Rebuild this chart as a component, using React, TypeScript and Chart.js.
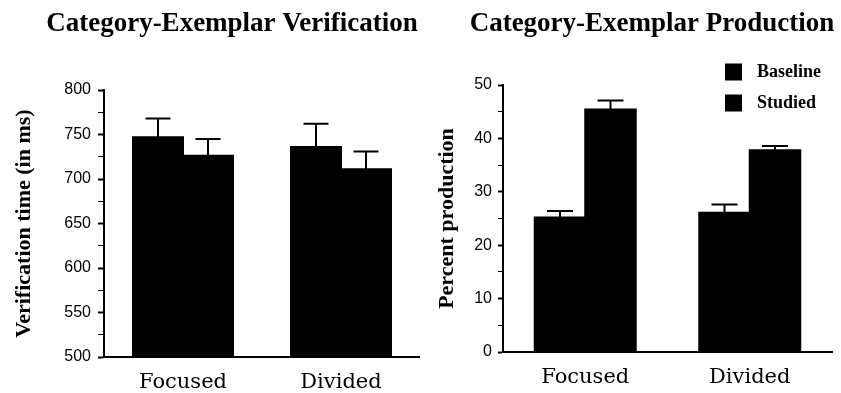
import React, { useEffect, useRef } from 'react';
import { Chart, registerables } from 'chart.js';

Chart.register(...registerables);

// ---- Data ----
const categories = ['Focused', 'Divided'];
const seriesLabels = ['Baseline', 'Studied'];

const verificationBaseline = [747, 736];
const verificationBaselineErr = [21, 26];
const verificationStudied = [726, 711];
const verificationStudiedErr = [19, 20];

const productionBaseline = [25.2, 26.1];
const productionBaselineErr = [1.2, 1.5];
const productionStudied = [45.4, 37.8];
const productionStudiedErr = [1.7, 0.8];

const verificationTitle = 'Category-Exemplar Verification';
const productionTitle = 'Category-Exemplar Production';
const verificationAxisTitle = 'Verification time (in ms)';
const productionAxisTitle = 'Percent production';

// ---- Plugins ----
const errorBarPlugin = {
  id: 'errorBars',
  afterDatasetsDraw(chart: any, _args: any, opts: any) {
    const ctx = chart.ctx;
    const yScale = chart.scales.y;
    chart.data.datasets.forEach((ds: any, di: number) => {
      if (!ds.errors) return;
      const meta = chart.getDatasetMeta(di);
      meta.data.forEach((el: any, i: number) => {
        const v = ds.data[i];
        const e = ds.errors[i];
        const yTop = yScale.getPixelForValue(v + e);
        const yBar = el.y;
        const half = (opts.capWidth || 24) / 2;
        ctx.save();
        ctx.strokeStyle = '#000';
        ctx.lineWidth = 2;
        ctx.beginPath();
        ctx.moveTo(el.x, yBar);
        ctx.lineTo(el.x, yTop);
        ctx.moveTo(el.x - half, yTop);
        ctx.lineTo(el.x + half, yTop);
        ctx.stroke();
        ctx.restore();
      });
    });
  },
};

const panelTitlePlugin = {
  id: 'panelTitle',
  afterDraw(chart: any, _args: any, opts: any) {
    if (!opts || !opts.text) return;
    const ctx = chart.ctx;
    ctx.save();
    ctx.fillStyle = '#000';
    ctx.font = `bold ${opts.size}px "Liberation Serif", serif`;
    ctx.textAlign = 'center';
    ctx.textBaseline = 'alphabetic';
    ctx.fillText(opts.text, opts.x, opts.y);
    ctx.restore();
  },
};

const boxLegendPlugin = {
  id: 'boxLegend',
  afterDraw(chart: any, _args: any, opts: any) {
    if (!opts || !opts.display) return;
    const ctx = chart.ctx;
    ctx.save();
    chart.data.datasets.forEach((ds: any, i: number) => {
      const cy = opts.y + i * opts.rowGap;
      ctx.fillStyle = ds.backgroundColor;
      ctx.fillRect(opts.x, cy - opts.box / 2, opts.box, opts.box);
      ctx.fillStyle = '#000';
      ctx.font = `bold ${opts.size}px "Liberation Serif", serif`;
      ctx.textAlign = 'left';
      ctx.textBaseline = 'middle';
      ctx.fillText(ds.label, opts.x + opts.box + opts.gap, cy);
    });
    ctx.restore();
  },
};

Chart.register(errorBarPlugin, panelTitlePlugin, boxLegendPlugin);

function makeConfig(p: any) {
  const barStyle = {
    backgroundColor: '#000',
    borderColor: '#000',
    borderWidth: 0,
    inflateAmount: 1,
    categoryPercentage: p.catPct,
    barPercentage: 1.0,
  };
  return {
    type: 'bar',
    data: {
      labels: categories,
      datasets: [
        { label: seriesLabels[0], data: p.baseline, errors: p.baselineErr, ...barStyle },
        { label: seriesLabels[1], data: p.studied, errors: p.studiedErr, ...barStyle },
      ],
    },
    options: {
      responsive: false,
      animation: false,
      devicePixelRatio: 1,
      layout: { padding: { top: p.top, right: p.right, left: 0, bottom: 0 } },
      plugins: {
        legend: { display: false },
        tooltip: { enabled: false },
        title: { display: false },
        errorBars: { capWidth: p.cap },
        panelTitle: { text: p.title, x: p.titleX, y: 31, size: 27 },
        boxLegend: p.legend,
      },
      scales: {
        x: {
          afterFit: (s: any) => {
            s.height = p.xHeight;
          },
          grid: { display: false, drawTicks: false },
          border: { display: true, color: '#000', width: 2 },
          ticks: {
            color: '#000',
            font: { family: '"DejaVu Serif", serif', size: 21 },
            padding: 13,
          },
        },
        y: {
          min: p.min,
          max: p.max,
          afterFit: (s: any) => {
            s.width = p.yWidth;
          },
          ticks: {
            stepSize: p.minorStep,
            autoSkip: false,
            color: '#000',
            font: { family: '"Liberation Sans", Arial, sans-serif', size: 16 },
            padding: p.tickPad,
            callback: (v: any) => (v % p.majorStep === 0 ? String(v) : ''),
          },
          grid: {
            drawOnChartArea: false,
            tickLength: p.tickLen,
            tickColor: '#000',
            tickWidth: (c: any) => (c.tick && c.tick.value % p.majorStep === 0 ? 2 : 1),
          },
          border: { color: '#000', width: 2 },
          title: {
            display: true,
            text: p.axisTitle,
            color: '#000',
            font: { family: '"Liberation Serif", serif', size: 22, weight: 'bold' },
            padding: { top: p.titlePad, bottom: 0 },
          },
        },
      },
    },
  };
}

function Panel({ left, width, params }: { left: number; width: number; params: any }) {
  const ref = useRef<HTMLCanvasElement | null>(null);
  useEffect(() => {
    if (!ref.current) return;
    const chart = new Chart(ref.current, makeConfig(params) as any);
    return () => chart.destroy();
  }, []);
  return (
    <div style={{ position: 'absolute', left, top: 0, width, height: 393 }}>
      <canvas ref={ref} width={width} height={393} style={{ display: 'block' }} />
    </div>
  );
}

export default function App() {
  const verificationParams = {
    baseline: verificationBaseline,
    baselineErr: verificationBaselineErr,
    studied: verificationStudied,
    studiedErr: verificationStudiedErr,
    min: 500,
    max: 800,
    majorStep: 50,
    minorStep: 25,
    catPct: 0.633,
    cap: 25,
    top: 90,
    right: 0,
    xHeight: 36,
    yWidth: 104,
    tickPad: 7,
    tickLen: 6,
    titlePad: 11,
    axisTitle: verificationAxisTitle,
    title: verificationTitle,
    titleX: 232,
    legend: { display: false },
  };
  const productionParams = {
    baseline: productionBaseline,
    baselineErr: productionBaselineErr,
    studied: productionStudied,
    studiedErr: productionStudiedErr,
    min: 0,
    max: 50,
    majorStep: 10,
    minorStep: 5,
    catPct: 0.614,
    cap: 26,
    top: 85,
    right: 9,
    xHeight: 41,
    yWidth: 83,
    tickPad: 6,
    tickLen: 5,
    titlePad: 14,
    axisTitle: productionAxisTitle,
    title: productionTitle,
    titleX: 232,
    legend: { display: true, x: 305, y: 72, rowGap: 31, box: 17, gap: 15, size: 18 },
  };
  return (
    <div style={{ position: 'absolute', left: 0, top: 0, width: 841, height: 393, background: '#fff' }}>
      <Panel left={0} width={420} params={verificationParams} />
      <Panel left={420} width={421} params={productionParams} />
    </div>
  );
}
